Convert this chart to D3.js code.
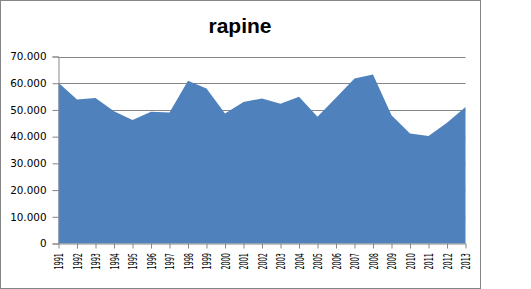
<!DOCTYPE html>
<html>
<head>
<meta charset="utf-8">
<script src="https://cdn.jsdelivr.net/npm/d3@7"></script>
<style>
  body { margin: 0; background: #fff; }
  svg { display: block; }
</style>
</head>
<body>
<div id="chart"></div>
<script>
// rapine per anno - area chart
var years = ['1991', '1992', '1993', '1994', '1995', '1996', '1997', '1998', '1999', '2000', '2001', '2002',
    '2003', '2004', '2005', '2006', '2007', '2008', '2009', '2010', '2011', '2012', '2013'];
var rapine = [60200, 53900, 54500, 49500, 46200, 49300, 49000, 60900, 58000, 48700, 53000, 54300,
    52300, 54900, 47400, 54600, 61800, 63300, 48000, 41200, 40200, 45200, 51100];
var yTicks = [0, 10000, 20000, 30000, 40000, 50000, 60000, 70000];
var yTickLabels = ['0', '10.000', '20.000', '30.000', '40.000', '50.000', '60.000', '70.000'];

var W = 531, H = 289;
var axisColor = '#868686';

var svg = d3.select('#chart').append('svg').attr('width', W).attr('height', H);

// chart frame
svg.append('rect').attr('x', 0.5).attr('y', 0.5).attr('width', 480).attr('height', 288)
    .attr('fill', '#fff').attr('stroke', axisColor);

svg.append('text').attr('x', 240).attr('y', 33).attr('text-anchor', 'middle')
    .attr('font-family', 'Liberation Sans, Arial, sans-serif').attr('font-weight', 'bold')
    .attr('font-size', 21).attr('fill', '#000').text('rapine');

var x = d3.scalePoint().domain(years).range([58.5, 465.5]);
var y = d3.scaleLinear().domain([0, 70000]).range([243.5, 56.5]);

// gridlines
svg.append('g').selectAll('line').data(yTicks.slice(1)).enter().append('line')
    .attr('x1', 58.5).attr('x2', 465.5)
    .attr('y1', function(d) { return Math.round(y(d)) + 0.5; })
    .attr('y2', function(d) { return Math.round(y(d)) + 0.5; })
    .attr('stroke', axisColor);

var area = d3.area()
    .x(function(d, i) { return x(years[i]); })
    .y0(y(0))
    .y1(function(d) { return y(d); });
svg.append('path').datum(rapine).attr('d', area).attr('fill', '#4F81BD');

// y axis
var yAxis = svg.append('g').attr('transform', 'translate(58.5,0)')
    .call(d3.axisLeft(y).tickValues(yTicks).tickSize(6).tickPadding(6)
        .tickFormat(function(d, i) { return yTickLabels[i]; }));
yAxis.select('.domain').attr('stroke', axisColor);
yAxis.selectAll('.tick line').attr('stroke', axisColor);
yAxis.selectAll('text').attr('font-family', 'DejaVu Sans, Verdana, sans-serif')
    .attr('font-size', 10.4).attr('fill', '#000');

// x axis
var xAxis = svg.append('g').attr('transform', 'translate(0,243.5)')
    .call(d3.axisBottom(x).tickSize(5).tickSizeOuter(0));
xAxis.select('.domain').attr('stroke', axisColor);
xAxis.selectAll('.tick line').attr('stroke', axisColor);
xAxis.selectAll('text')
    .attr('font-family', 'DejaVu Sans, Verdana, sans-serif').attr('font-size', 11.5).attr('fill', '#000')
    .attr('transform', 'rotate(-90)').attr('text-anchor', 'end')
    .attr('x', -9.5).attr('y', 0).attr('dy', '0.38em')
    .attr('textLength', 16.5).attr('lengthAdjust', 'spacingAndGlyphs');
</script>
</body>
</html>
